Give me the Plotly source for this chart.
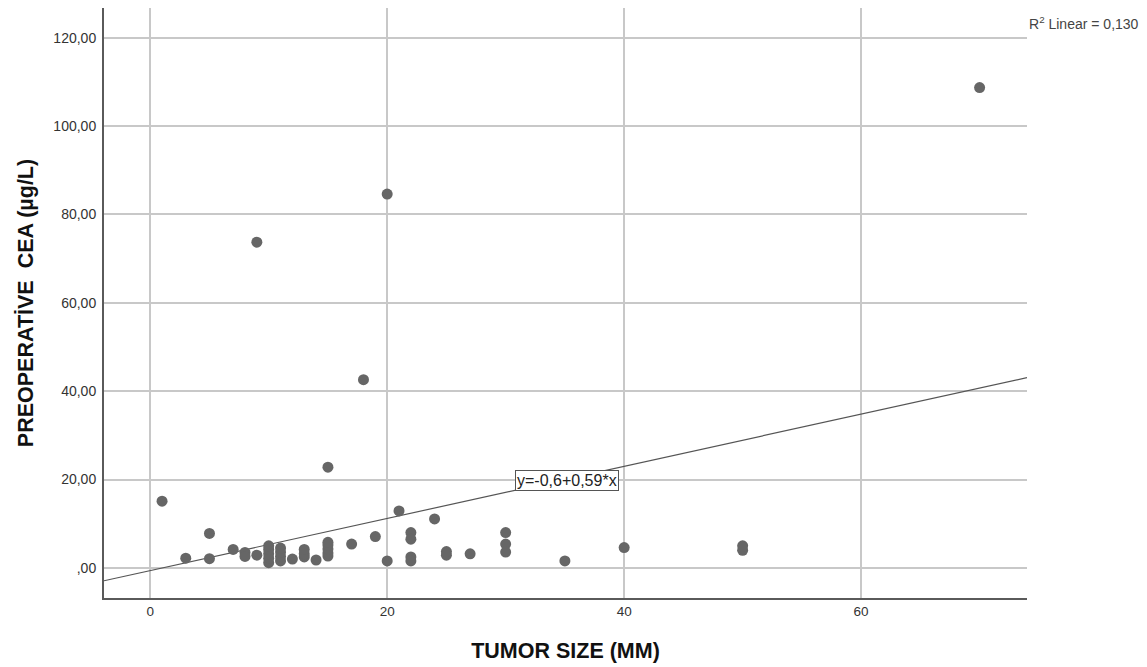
import plotly.graph_objects as go

tumor_size = [1, 3, 5, 5, 7, 8, 8, 9, 9,
              10, 10, 10, 10, 10, 11, 11, 11, 11, 12, 13, 13, 13, 14,
              15, 15, 15, 15, 15, 15, 17, 18, 19, 20, 20, 21,
              22, 22, 22, 22, 24, 25, 25, 27, 30, 30, 30, 35, 40, 50, 50, 70]
cea = [15.1, 2.2, 7.8, 2.1, 4.2, 3.5, 2.6, 2.9, 73.7,
       1.2, 2.2, 3.2, 4.2, 5.0, 1.6, 2.6, 3.6, 4.5, 2.0, 2.5, 3.2, 4.2, 1.8,
       2.7, 3.4, 4.3, 5.2, 5.8, 22.8, 5.4, 42.6, 7.1, 1.6, 84.6, 12.9,
       8.0, 6.5, 2.5, 1.6, 11.1, 2.9, 3.7, 3.2, 8.0, 5.4, 3.6, 1.6, 4.6, 4.0, 5.0, 108.7]

fit_intercept = -0.6
fit_slope = 0.59
r2_label = "R<sup>2</sup> Linear = 0,130"
eq_label = "y=-0,6+0,59*x"

x_ticks = [0, 20, 40, 60]
y_ticks = [0, 20, 40, 60, 80, 100, 120]
y_ticktext = [",00", "20,00", "40,00", "60,00", "80,00", "100,00", "120,00"]

x_range = [-3.9, 74.0]
y_range = [-6.8, 126.7]

fig = go.Figure()
fig.add_trace(go.Scatter(
    x=[x_range[0], x_range[1]],
    y=[fit_intercept + fit_slope * x_range[0], fit_intercept + fit_slope * x_range[1]],
    mode="lines", line=dict(color="#555555", width=1.2), hoverinfo="skip", showlegend=False))
fig.add_trace(go.Scatter(
    x=tumor_size, y=cea, mode="markers",
    marker=dict(color="#666666", size=11, line=dict(width=0)), showlegend=False))

fig.add_annotation(x=35.2, y=19.7, text=eq_label, showarrow=False,
                   font=dict(family="Liberation Sans, Arial", size=16, color="#222222"),
                   bgcolor="white", bordercolor="#555555", borderwidth=1, borderpad=1)
fig.add_annotation(xref="paper", yref="paper", x=1.0, y=0.975, xanchor="left", yanchor="middle",
                   text=r2_label, showarrow=False,
                   font=dict(family="Liberation Sans, Arial", size=14, color="#444444"))

fig.update_layout(
    width=1147, height=667,
    margin=dict(l=96, r=128, t=0, b=77),
    paper_bgcolor="white", plot_bgcolor="white",
    font=dict(family="Liberation Sans, Arial", color="#333333"),
    xaxis=dict(range=x_range, tickvals=x_ticks, ticktext=[str(v) for v in x_ticks],
               showgrid=True, gridcolor="#c8c8c8", gridwidth=1.5, zeroline=False,
               showline=True, linecolor="#5a5a5a", linewidth=2, ticks="",
               tickfont=dict(family="Liberation Sans, Arial", size=13.5, color="#333333"),
               title=dict(text="<b>TUMOR SIZE (MM)</b>", standoff=25,
                          font=dict(family="Liberation Sans, Arial", size=21.5, color="#111111"))),
    yaxis=dict(range=y_range, tickvals=y_ticks, ticktext=y_ticktext,
               showgrid=True, gridcolor="#c8c8c8", gridwidth=1.5, zeroline=False,
               showline=True, linecolor="#5a5a5a", linewidth=2, ticks="", ticklabelstandoff=3,
               tickfont=dict(family="Liberation Sans, Arial", size=14, color="#333333"),
               title=dict(text="<b>PREOPERATİVE  CEA (µg/L)</b>", standoff=14,
                          font=dict(family="Liberation Sans, Arial", size=21.5, color="#111111"))),
)

fig.write_html("out.html")
